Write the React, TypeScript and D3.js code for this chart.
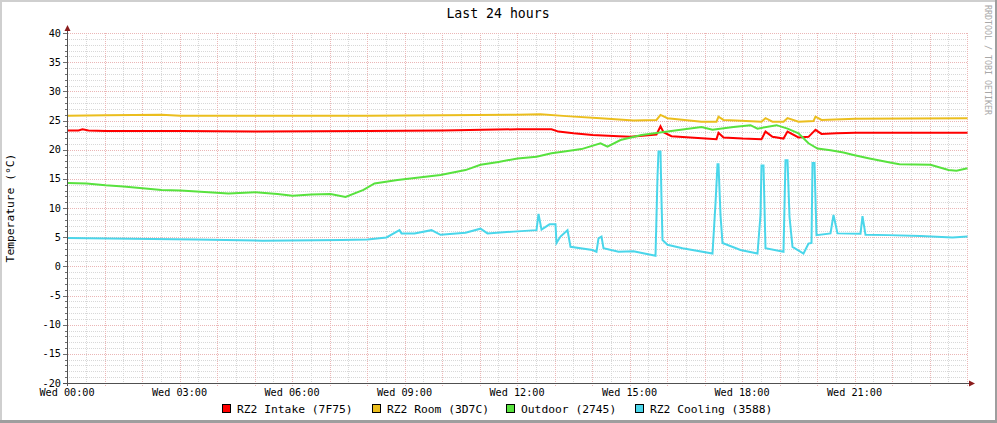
import React from "react";
import * as d3 from "d3";

const W = 997;
const H = 423;

const title = "Last 24 hours";
const yTitle = "Temperature (°C)";
const watermark = "RRDTOOL / TOBI OETIKER";
const xTickHours = [0, 3, 6, 9, 12, 15, 18, 21];
const xTickLabels = ["Wed 00:00", "Wed 03:00", "Wed 06:00", "Wed 09:00", "Wed 12:00", "Wed 15:00", "Wed 18:00", "Wed 21:00"];
const yTicks = [40, 35, 30, 25, 20, 15, 10, 5, 0, -5, -10, -15, -20];

const seriesNames = ["RZ2 Intake (7F75)", "RZ2 Room (3D7C)", "Outdoor (2745)", "RZ2 Cooling (3588)"];
const seriesColors = ["#FF0000", "#EBBE1E", "#58E23E", "#4AD6EA"];

const intake: [number, number][] = [
  [0, 23.3], [0.3, 23.3], [0.4, 23.5], [0.55, 23.3], [1, 23.2], [3, 23.2], [5, 23.1], [8, 23.2], [10, 23.3],
  [12, 23.5], [12.9, 23.5], [13.1, 23.1], [13.5, 22.8], [14.0, 22.5], [14.7, 22.3], [15.0, 22.2],
  [15.7, 22.6], [15.8, 24.0], [15.9, 23.0], [16.1, 22.3], [17.0, 21.9], [17.3, 21.8], [17.35, 22.9],
  [17.5, 22.1], [18.0, 21.9], [18.5, 21.8], [18.6, 23.1], [18.8, 22.2], [19.1, 21.9], [19.2, 23.1],
  [19.5, 22.1], [19.75, 22.2], [19.95, 23.4], [20.1, 22.7], [20.5, 22.8], [21, 22.9], [24, 22.9],
];

const room: [number, number][] = [
  [0, 25.8], [1, 25.9], [2.5, 26.0], [3, 25.8], [5, 25.8], [8, 25.8], [10, 25.9], [12, 26.0],
  [12.6, 26.05], [13.3, 25.75], [14.2, 25.4], [15.1, 25.0], [15.7, 25.1], [15.8, 25.95], [16.0, 25.4],
  [16.9, 24.8], [17.3, 24.8], [17.35, 25.65], [17.5, 25.1], [17.8, 25.0], [18.5, 24.8], [18.6, 25.4],
  [18.8, 24.8], [19.1, 24.8], [19.2, 25.4], [19.5, 24.8], [19.9, 24.9], [19.95, 25.65], [20.1, 25.1],
  [21, 25.3], [24, 25.4],
];

const outdoor: [number, number][] = [
  [0, 14.3], [0.5, 14.2], [1, 13.9], [1.5, 13.7], [2.5, 13.1], [3, 13.0], [4.3, 12.5], [5, 12.7],
  [5.6, 12.4], [6, 12.1], [6.5, 12.3], [7.0, 12.4], [7.4, 11.9], [7.9, 13.1], [8.2, 14.2], [8.8, 14.8],
  [9.2, 15.1], [9.95, 15.65], [10.6, 16.5], [11.0, 17.4], [11.5, 17.9], [12.0, 18.5], [12.5, 18.8],
  [12.9, 19.4], [13.2, 19.65], [13.7, 20.1], [14.2, 21.1], [14.4, 20.5], [14.75, 21.65], [15.3, 22.5],
  [16.0, 23.1], [16.9, 23.9], [17.2, 23.4], [17.75, 23.9], [18.2, 24.2], [18.4, 23.6], [18.9, 24.2],
  [19.2, 23.6], [19.5, 22.8], [19.75, 21.1], [20.0, 20.2], [20.35, 19.9], [20.7, 19.5], [20.96, 19.1],
  [21.4, 18.5], [22.0, 17.7], [22.2, 17.5], [23.0, 17.4], [23.5, 16.5], [23.7, 16.4], [24.0, 16.8],
];

const cooling: [number, number][] = [
  [0, 4.85], [3.4, 4.6], [5.2, 4.4], [7.3, 4.5], [8.0, 4.6], [8.5, 4.95], [8.85, 6.2], [8.9, 5.65],
  [9.25, 5.65], [9.7, 6.2], [9.95, 5.4], [10.6, 5.75], [11.0, 6.45], [11.2, 5.65], [11.9, 5.95],
  [12.5, 6.2], [12.57, 9.0], [12.65, 6.3], [12.85, 7.2], [13.0, 7.2], [13.05, 4.0], [13.15, 5.1],
  [13.33, 6.2], [13.4, 3.35], [14.0, 2.8], [14.1, 2.5], [14.15, 4.8], [14.25, 5.1], [14.3, 3.1],
  [14.7, 2.5], [15.1, 2.6], [15.68, 1.8], [15.72, 15.4], [15.75, 19.7], [15.8, 19.7], [15.83, 11.4],
  [15.87, 4.5], [16.0, 3.7], [16.4, 3.1], [17.2, 2.2], [17.28, 10.8], [17.32, 17.5], [17.37, 17.5],
  [17.41, 8.8], [17.47, 4.0], [17.95, 2.8], [18.4, 2.2], [18.47, 8.8], [18.52, 17.3], [18.57, 17.3],
  [18.62, 3.1], [19.1, 2.5], [19.15, 18.2], [19.2, 18.2], [19.25, 8.5], [19.32, 3.35], [19.63, 2.2],
  [19.75, 3.9], [19.85, 4.0], [19.88, 17.7], [19.93, 17.7], [19.98, 5.35], [20.35, 5.65], [20.42, 8.8],
  [20.52, 5.65], [21.15, 5.6], [21.2, 8.6], [21.28, 5.4], [21.9, 5.35], [22.75, 5.2], [23.6, 4.95],
  [24, 5.1],
];

const allSeries = [intake, room, outdoor, cooling];

const mono = "'DejaVu Sans Mono', monospace";

export default function App() {
  const x = d3.scaleLinear().domain([0, 24]).range([67, 967]);
  const y = d3.scaleLinear().domain([-20, 40]).range([383, 33]);
  const line = d3
    .line<[number, number]>()
    .x((d) => Math.round(x(d[0])) + 0.5)
    .y((d) => y(d[1]));

  const minorX = d3.range(0, 24.01, 0.5).filter((h) => h % 1 !== 0);
  const majorX = d3.range(1, 24.01, 1);
  const minorY = d3.range(-19, 40, 1).filter((v) => v % 5 !== 0);
  const majorY = d3.range(-15, 40.01, 5);

  const px = (v: number) => Math.round(v) + 0.5;
  const legendX = [222, 372, 506, 635];

  return (
    <svg
      width={W}
      height={H}
      style={{ position: "absolute", left: 0, top: 0, display: "block", background: "#fff" }}
    >
      <rect x={0} y={0} width={W} height={H} fill="#ffffff" />
      {/* frame */}
      <rect x={0} y={0} width={W} height={2} fill="#cfcfcf" />
      <rect x={0} y={0} width={2} height={H} fill="#cfcfcf" />
      <rect x={W - 2} y={0} width={2} height={H} fill="#9e9e9e" />
      <rect x={0} y={H - 3} width={W} height={3} fill="#9e9e9e" />

      {/* minor grid */}
      <g stroke="#d8d8d8" strokeWidth={1} strokeDasharray="1,1">
        {minorX.map((h) => (
          <line key={"mx" + h} x1={px(x(h))} x2={px(x(h))} y1={33} y2={383} />
        ))}
        {minorY.map((v) => (
          <line key={"my" + v} x1={67} x2={967} y1={px(y(v))} y2={px(y(v))} />
        ))}
      </g>
      {/* major grid */}
      <g stroke="#ebb6b6" strokeWidth={1} strokeDasharray="1,1">
        {majorX.map((h) => (
          <line key={"Mx" + h} x1={px(x(h))} x2={px(x(h))} y1={33} y2={386} />
        ))}
        {majorY.map((v) => (
          <line key={"My" + v} x1={64} x2={967} y1={px(y(v))} y2={px(y(v))} />
        ))}
      </g>

      {/* y ticks */}
      <g stroke="#707070" strokeWidth={1}>
        {minorY.map((v) => (
          <line key={"ty" + v} x1={65} x2={67} y1={px(y(v))} y2={px(y(v))} />
        ))}
        {yTicks.map((v) => (
          <line key={"tY" + v} x1={63} x2={67} y1={px(y(v))} y2={px(y(v))} />
        ))}
      </g>

      {/* series */}
      {allSeries.map((s, i) => (
        <path
          key={"s" + i}
          d={line(s) || ""}
          fill="none"
          stroke={seriesColors[i]}
          strokeWidth={2}
          strokeLinejoin="miter"
        />
      ))}

      {/* axes */}
      <line x1={px(x(0))} x2={px(x(0))} y1={30} y2={386} stroke="#505050" strokeWidth={1} />
      <line x1={63} x2={970} y1={px(y(-20))} y2={px(y(-20))} stroke="#505050" strokeWidth={1} />
      <path d={`M${px(x(0)) - 3},31 L${px(x(0)) + 3},31 L${px(x(0))},25 Z`} fill="#8b1c1c" />
      <path d={`M969,${px(y(-20)) - 3} L969,${px(y(-20)) + 3} L975,${px(y(-20))} Z`} fill="#8b1c1c" />

      {/* y tick labels */}
      <g fontFamily={mono} fontSize={10.2} fill="#000" textAnchor="end">
        {yTicks.map((v) => (
          <text key={"ly" + v} x={61} y={y(v) + 3.5}>
            {v}
          </text>
        ))}
      </g>
      {/* x tick labels */}
      <g fontFamily={mono} fontSize={10.2} fill="#000" textAnchor="middle">
        {xTickHours.map((h, i) => (
          <text key={"lx" + h} x={x(h)} y={396}>
            {xTickLabels[i]}
          </text>
        ))}
      </g>

      {/* title */}
      <text x={498} y={18} fontFamily={mono} fontSize={13.2} textAnchor="middle" fill="#000">
        {title}
      </text>
      {/* y title */}
      <text
        transform="translate(14,208) rotate(-90)"
        fontFamily={mono}
        fontSize={11.3}
        textAnchor="middle"
        fill="#000"
      >
        {yTitle}
      </text>
      {/* watermark */}
      <text
        transform="translate(985,5) rotate(90)"
        fontFamily={mono}
        fontSize={8.3}
        fill="#a8a8a8"
      >
        {watermark}
      </text>

      {/* legend */}
      {seriesNames.map((n, i) => (
        <g key={"lg" + i}>
          <rect x={legendX[i] + 0.5} y={404.5} width={8} height={8} fill={seriesColors[i]} stroke="#000" strokeWidth={1} />
          <text x={legendX[i] + 15} y={413} fontFamily={mono} fontSize={11.3} fill="#000">
            {n}
          </text>
        </g>
      ))}
    </svg>
  );
}
